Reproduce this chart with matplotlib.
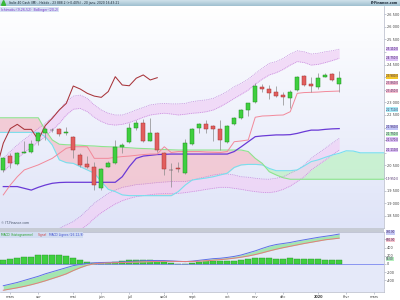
import numpy as np
import matplotlib.pyplot as plt
from matplotlib.colors import LinearSegmentedColormap
from matplotlib.patches import Rectangle, Polygon

# weekly candles, index 0 = week of 25 Feb 2019, last = week of 20 Jan 2020
opens = [20320, 20870, 20560, 20980, 21030, 21470, 21800, 21900, 21930, 21770,
         21640, 20910, 20540, 20420, 19590, 20450, 20580, 21240, 21440, 22000,
         22200, 21480, 21800, 21010, 20320, 20410, 20190, 21340, 21970, 22130,
         22060, 21950, 21420, 22130, 22370, 22700, 23000, 23600, 23520, 23400,
         23290, 23190, 23490, 24050, 23730, 23600, 24020, 24110, 23730]
highs = [20850, 20980, 21050, 21470, 21510, 21840, 22040, 21970, 21970, 22010,
         21670, 20980, 20870, 20650, 20380, 20690, 21510, 21380, 22170, 22300,
         22330, 22370, 21840, 21040, 20610, 20650, 21540, 22000, 22200, 22300,
         22100, 22300, 22100, 22410, 22730, 22990, 23760, 23720, 23690, 23650,
         23430, 23490, 24050, 24090, 24020, 24180, 24180, 24150, 24260]
lows = [20250, 20380, 20520, 20980, 21010, 21310, 21510, 21840, 21670, 21710,
        20780, 20450, 20410, 19520, 19520, 20420, 20560, 20980, 21380, 21900,
        21440, 21470, 21040, 20120, 19660, 20250, 20160, 21310, 21800, 21770,
        21480, 21110, 21380, 22100, 22330, 22460, 22960, 23400, 23120, 23230,
        22900, 22770, 23470, 23660, 23430, 23520, 24000, 23860, 23430]
closes = [20780, 20580, 21010, 21030, 21340, 21800, 21930, 21910, 21750, 21830,
          21110, 20520, 20420, 19720, 20340, 20580, 21220, 21310, 21970, 22200,
          21470, 21770, 21110, 20340, 20330, 20340, 21380, 21960, 22130, 21930,
          21930, 21510, 22080, 22370, 22700, 22960, 23650, 23530, 23360, 23250,
          23200, 23430, 24020, 23690, 23660, 23960, 24090, 23890, 23980]

# ichimoku (9, 26, 52)
tenkan = [19330, 19720, 20050, 20320, 20420, 20520, 20650, 20780, 20980, 21180,
          21240, 21240, 21240, 20780, 20780, 20780, 20820, 20850, 20870, 20900,
          20930, 20950, 20950, 21240, 21010, 21050, 21050, 21050, 21050, 21030,
          21020, 21010, 21050, 21440, 21470, 21510, 22410, 22460, 22470, 22490,
          22500, 22630, 23360, 23390, 23400, 23410, 23430, 23440, 23450]
kijun = [19660, 19660, 19660, 19590, 19520, 19630, 19720, 19790, 19820, 19830,
         19830, 19830, 19830, 19830, 19830, 19830, 19830, 20050, 20450, 20780,
         20870, 20900, 20930, 20940, 20950, 20950, 20950, 20950, 20950, 20950,
         20950, 20950, 20950, 21050, 21240, 21440, 21640, 21670, 21690, 21710,
         21710, 21720, 21770, 21840, 21900, 21900, 21930, 21950, 21960]
# cloud, weeks -1 .. 55
span_a = [21810, 21810, 21810, 21810, 21810, 21810, 21810, 21640, 21310, 20720,
          20610, 20580, 20450, 20320, 20190, 19860, 19550, 19460, 19330, 19300,
          19300, 19300, 19300, 19300, 19300, 19300, 19460, 19720, 19920, 19960,
          20000, 20050, 20120, 20190, 20420, 20520, 20540, 20540, 20520, 20380,
          20290, 20290, 20290, 20320, 20480, 20650, 20720, 20820, 20910, 20980,
          21080, 21070, 21000, 21000, 21000, 21000, 21000]
span_b = [22390, 22390, 22390, 22390, 22390, 22390, 22390, 21900, 21510, 21340,
          21320, 21310, 21300, 21280, 21270, 21250, 21240, 21230, 21220, 21200,
          21180, 21170, 21160, 21140, 21130, 21120, 21110, 21110, 21110, 21110,
          21110, 21110, 21110, 21110, 21110, 21110, 21050, 20780, 20580, 20250,
          20120, 20010, 19950, 19950, 19950, 19950, 19950, 19950, 19950, 19950,
          19950, 19950, 19950, 19950, 19950, 19950, 19950]

# bollinger (20, 2) ribbons
bb_up_out = [20780, 21050, 21310, 21530, 21750, 21970, 22170, 22410, 22700, 23030,
             23250, 23290, 23160, 22900, 22700, 22570, 22500, 22500, 22590, 22700,
             22800, 22900, 22940, 22960, 22940, 22940, 22960, 23030, 23070, 23100,
             23160, 23290, 23430, 23620, 23760, 23920, 24150, 24350, 24550, 24620,
             24750, 24920, 25050, 25010, 24920, 24950, 25010, 25050, 25110]
bb_up_in = [20250, 20520, 20780, 21010, 21220, 21440, 21640, 21900, 22170, 22500,
            22730, 22760, 22630, 22410, 22240, 22130, 22100, 22130, 22200, 22300,
            22410, 22500, 22540, 22570, 22540, 22500, 22530, 22570, 22590, 22630,
            22700, 22830, 22990, 23160, 23320, 23490, 23720, 23920, 24090, 24180,
            24310, 24480, 24620, 24580, 24480, 24510, 24580, 24660, 24750]
bb_lo_in = [16610, 16750, 16880, 17010, 17210, 17410, 17610, 17800, 18000, 18140,
            18270, 18470, 18730, 19000, 19190, 19390, 19520, 19630, 19680, 19740,
            19760, 19790, 19820, 19840, 19860, 19860, 19860, 19920, 19990, 20050,
            20120, 20160, 20160, 20120, 20050, 20030, 19990, 19960, 19950, 19990,
            20050, 20190, 20320, 20520, 20780, 20980, 21180, 21380, 21570]
bb_lo_out = [16090, 16220, 16350, 16510, 16680, 16880, 17080, 17280, 17430, 17610,
             17740, 17940, 18140, 18400, 18620, 18800, 18970, 19100, 19190, 19260,
             19300, 19340, 19370, 19380, 19390, 19390, 19420, 19460, 19500, 19550,
             19590, 19630, 19630, 19590, 19550, 19500, 19460, 19430, 19420, 19460,
             19550, 19680, 19860, 20050, 20320, 20520, 20710, 20910, 21110]

# MACD (26, 12, 9)
macd = [-530, -490, -450, -400, -350, -300, -240, -190, -140, -90,
        -40, -10, 15, 28, 36, 40, 42, 50, 60, 70,
        78, 84, 86, 84, 76, 66, 58, 70, 90, 110,
        130, 140, 160, 185, 220, 270, 320, 380, 435, 475,
        500, 525, 560, 590, 620, 650, 675, 700, 730]
signal = [-640, -610, -580, -545, -505, -460, -410, -355, -300, -240,
          -160, -90, -30, 5, 20, 28, 32, 36, 42, 48,
          52, 58, 62, 64, 64, 62, 60, 62, 68, 78,
          92, 106, 122, 142, 166, 195, 230, 272, 318, 360,
          398, 432, 466, 500, 530, 560, 590, 610, 630]
hist = [104, 120, 144, 160, 176, 208, 216, 216, 216, 200,
        144, 104, 48, 24, 24, 24, 40, 64, 88, 104,
        104, 104, 80, 56, 24, 4, -8, 24, 48, 64,
        72, 64, 72, 80, 104, 112, 136, 152, 152, 120,
        120, 136, 120, 120, 120, 120, 104, 96, 96]

month_ticks = [1, 5, 10, 14, 18, 23, 27, 32, 36, 40, 45, 49, 53]
month_labels = ['mars', 'avr', 'mai', 'juin', 'juil', 'août', 'sept', 'oct',
                'nov', 'déc', '2020', 'févr', 'mars']
price_ticks = list(range(18500, 27000, 500))
macd_ticks = [-400, -200, 0, 200, 400, 600]

# last-value boxes on the scales: (value, colour, shift in points)
price_boxes = [(25110, '#dcc0f6', 0), (24750, '#dcc0f6', 0), (23980, '#f2c62a', 1.0),
               (23860, '#f7bfd0', -1.6), (23450, '#f7bfd0', 0), (22710, '#a6ecf6', 0),
               (21960, '#c0c4f6', 0.8), (21750, '#b4f0bc', 0), (21570, '#dcc0f6', -0.8),
               (21110, '#dcc0f6', 0), (19950, '#ffffff', 0)]
macd_boxes = [(730, '#c6caf6', 1.2), (630, '#f6c4cc', -1.4), (96, '#b4f0bc', 0.7)]

title = 'Italie 40 Cash (IM) - Hebdo - 23 888.2 (+0.40%) - 20 janv. 2020 16:43:21'

W, H = 400.0, 300.0


def fig_box(x0, y0, x1, y1):
    # pixel box (top-left origin) -> figure fraction rect
    return [x0 / W, 1 - y1 / H, (x1 - x0) / W, (y1 - y0) / H]


def fmt(v):
    return f'{v:,}'.replace(',', ' ')


def value_boxes(axis, boxes, decimals):
    for v, col, dy in boxes:
        axis.annotate(f'{v:,.{decimals}f}'.replace(',', ' '), xy=(1, v),
                      xycoords=('axes fraction', 'data'), xytext=(1.3, dy),
                      textcoords='offset points', fontsize=2.0, va='center',
                      ha='left', color='#402060', annotation_clip=False, zorder=10,
                      bbox=dict(boxstyle='square,pad=0.1', fc=col, ec='none'))


def scale_labels(ticks, boxes, gap):
    # tick labels sitting under a value box are covered in the original
    out = []
    for t in ticks:
        hidden = any(abs(t - b[0]) < gap for b in boxes)
        out.append('' if hidden else fmt(t))
    return out


fig = plt.figure(figsize=(4, 3), dpi=100)
fig.patch.set_facecolor('white')
fs = 2.5

# header bar
hdr = fig.add_axes(fig_box(0, 0, 400, 6))
hdr.imshow(np.linspace(0, 1, 32).reshape(-1, 1), aspect='auto', extent=(0, 1, 0, 1),
           cmap=LinearSegmentedColormap.from_list('h', ['#cfe1ea', '#9fc0d0']))
hdr.set_xlim(0, 1)
hdr.set_ylim(0, 1)
hdr.axis('off')
hdr.add_patch(Polygon([[0.004, 0.12], [0.014, 0.12], [0.009, 0.92]], color='#38b838'))
hdr.text(0.022, 0.5, title, fontsize=2.2, va='center', color='#1b2836')
hdr.text(0.995, 0.5, 'IT-Finance.com', fontsize=2.3, va='center', ha='right',
         color='#1b2836', weight='bold')

# main panel
ax = fig.add_axes(fig_box(0, 6, 384, 228))
n = len(closes)
idx = np.arange(n)
cx = np.arange(-1, len(span_a) - 1)
sa = np.array(span_a)
sb = np.array(span_b)

ax.imshow(np.linspace(0, 1, 64).reshape(-1, 1), aspect='auto', extent=(0, 1, 0, 1),
          transform=ax.transAxes, zorder=0,
          cmap=LinearSegmentedColormap.from_list('bg', ['#ffffff', '#dfe4f8']))

ax.fill_between(cx, sa, sb, where=sb >= sa, interpolate=True, color='#f4c2cd',
                alpha=0.8, lw=0, zorder=1)
ax.fill_between(cx, sa, sb, where=sa > sb, interpolate=True, color='#c4f1cc',
                alpha=0.85, lw=0, zorder=1)

ax.fill_between(idx, bb_up_in, bb_up_out, color='#f0d2f6', alpha=0.75, lw=0, zorder=2)
ax.fill_between(idx, bb_lo_out, bb_lo_in, color='#f0d2f6', alpha=0.75, lw=0, zorder=2)
for band in (bb_up_out, bb_up_in, bb_lo_in, bb_lo_out):
    ax.plot(idx, band, color='#c487dc', lw=0.55, ls=(0, (1.2, 1.2)), zorder=2)

ax.plot(cx, sa, color='#78e0ee', lw=0.8, zorder=3)
ax.plot(cx, sb, color='#8ee48e', lw=0.8, zorder=3)
ax.plot(idx, kijun, color='#6a3ad6', lw=0.9, zorder=3)
ax.plot(idx, tenkan, color='#f2899a', lw=0.7, zorder=3)
ax.plot(idx[25:] - 26, closes[25:], color='#a8343a', lw=0.75, zorder=3)

o = np.array(opens)
c = np.array(closes)
up = c > o + 15
down = c < o - 15
body = np.where(up, '#3fcf3f', np.where(down, '#e25e5e', '#555555'))
edge = np.where(up, '#218f21', np.where(down, '#a83636', '#444444'))
ax.vlines(idx, lows, highs, color='#8a8a8a', lw=0.5, zorder=4)
ax.bar(idx, np.maximum(np.abs(c - o), 14), bottom=np.minimum(o, c), width=0.62,
       color=body, edgecolor=edge, lw=0.35, zorder=5)

ax.set_xlim(-0.47, 54.4)
ax.set_ylim(18016, 26825)
ax.set_xticks([])
ax.yaxis.tick_right()
ax.set_yticks(price_ticks)
ax.set_yticklabels(scale_labels(price_ticks, price_boxes, 190))
ax.tick_params(axis='y', labelsize=fs, length=1.2, width=0.4, pad=1,
               colors='#9aa0b0', labelcolor='#404040')
for s in ax.spines.values():
    s.set_color('#b4b8c8')
    s.set_linewidth(0.5)
ax.spines['left'].set_visible(False)
ax.spines['top'].set_visible(False)

value_boxes(ax, price_boxes, 1)

ax.text(0.003, 0.984, 'Ichimoku (9,26,52)  Bollinger (20,2)', transform=ax.transAxes,
        fontsize=2.3, color='#7a38c8', va='center', zorder=11,
        bbox=dict(boxstyle='square,pad=0.25', fc='#d8e2f4', ec='none'))
ax.text(0.003, 0.012, '© IT-Finance.com', transform=ax.transAxes, fontsize=2.3,
        color='#445066', va='bottom', zorder=11)

# separator
fig.add_artist(Rectangle((0, 1 - 232 / H), 384 / W, 4 / H, transform=fig.transFigure,
                         fc='#c6cbd5', ec='none'))

# MACD panel
ax2 = fig.add_axes(fig_box(0, 232, 384, 292))
ax2.set_facecolor('#e5e9f9')
ax2.axhline(0, color='#7b87f0', lw=0.6, zorder=1)
ax2.bar(idx, hist, width=0.8, color='#3fcf3f', edgecolor='#279527', lw=0.3, zorder=2)
ax2.fill_between(idx, macd, signal, color='#a4e6b0', lw=0, zorder=3)
ax2.plot(idx, macd, color='#5f70e6', lw=0.7, zorder=4)
ax2.plot(idx, signal, color='#e47c7c', lw=0.7, zorder=4)
ax2.set_xlim(-0.47, 54.4)
ax2.set_ylim(-683, 780)
ax2.yaxis.tick_right()
ax2.set_yticks(macd_ticks)
ax2.set_yticklabels(scale_labels(macd_ticks, macd_boxes[:2], 80))
ax2.set_xticks(month_ticks)
ax2.set_xticklabels(month_labels)
for lbl in ax2.get_xticklabels():
    if lbl.get_text() == '2020':
        lbl.set_fontweight('bold')
ax2.tick_params(labelsize=fs, length=1.2, width=0.4, pad=1, colors='#9aa0b0',
                labelcolor='#404040')
for s in ax2.spines.values():
    s.set_color('#b4b8c8')
    s.set_linewidth(0.5)
ax2.spines['left'].set_visible(False)

value_boxes(ax2, macd_boxes, 2)

ax2.add_patch(Rectangle((0, 0.905), 0.215, 0.095, transform=ax2.transAxes,
                        fc='#d2ddf2', ec='none', zorder=5))
legend_parts = [(0.003, 'MACD (histogramme)', '#25a025'),
                (0.098, 'Signal', '#d04848'),
                (0.127, 'MACD Lignes (26,12,9)', '#4050d0')]
for xp, txt, col in legend_parts:
    ax2.text(xp, 0.952, txt, transform=ax2.transAxes, fontsize=2.2, color=col,
             va='center', zorder=6)

fig.savefig('out.png', dpi=100)
